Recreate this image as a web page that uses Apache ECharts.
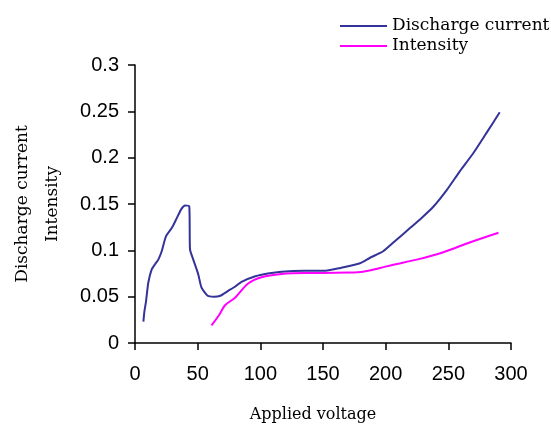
<!DOCTYPE html>
<html>
<head>
<meta charset="utf-8">
<script src="https://cdn.jsdelivr.net/npm/echarts@6/dist/echarts.min.js"></script>
<style>
html,body{margin:0;padding:0;background:#fff;}
#chart{width:551px;height:425px;}
</style>
</head>
<body>
<div id="chart"></div>
<script>
// Discharge current: applied voltage and values
var dischargeVoltage = [6.7, 7.5, 8.8, 10.6, 13.2, 16, 18.6, 21.3, 24.7, 29.3, 32.7, 37.2, 40, 43.3, 43.9, 46.5, 50.5, 53, 58, 63, 68, 74, 80, 85, 96, 106, 117, 135, 152, 164, 179.5, 187.5, 198, 208.7, 219.4, 228.7, 238, 248.7, 259, 270, 280.6, 291];
var dischargeValues  = [0.023, 0.034, 0.045, 0.065, 0.079, 0.085, 0.090, 0.099, 0.115, 0.124, 0.133, 0.145, 0.1485, 0.1475, 0.101, 0.090, 0.074, 0.060, 0.051, 0.050, 0.051, 0.056, 0.061, 0.066, 0.072, 0.075, 0.077, 0.078, 0.078, 0.081, 0.086, 0.092, 0.099, 0.1115, 0.124, 0.135, 0.147, 0.165, 0.185, 0.205, 0.227, 0.249];
// Intensity
var intensityVoltage = [61, 67, 72, 80, 90, 101, 117, 135, 150, 170, 182, 195.5, 206, 224.7, 246, 267, 290];
var intensityValues  = [0.019, 0.030, 0.041, 0.049, 0.064, 0.071, 0.0745, 0.0755, 0.0755, 0.076, 0.077, 0.081, 0.0845, 0.090, 0.098, 0.1085, 0.119];

var seriesNames = ['Discharge current', 'Intensity'];
var xAxisTitle = 'Applied voltage';
var yAxisTitle = 'Discharge current\nIntensity';

function pairs(xs, ys) { return xs.map(function (x, i) { return [x, ys[i]]; }); }

var chart = echarts.init(document.getElementById('chart'), null, {renderer: 'canvas'});
chart.setOption({
  animation: false,
  backgroundColor: '#ffffff',
  grid: {left: 135, right: 40, top: 65, bottom: 82, containLabel: false, outerBoundsMode: 'none'},
  legend: {
    orient: 'vertical',
    left: 335, top: 11,
    itemWidth: 47, itemHeight: 2, itemGap: 0,
    icon: 'rect',
    textStyle: {fontFamily: 'DejaVu Serif', fontSize: 17, color: '#000', lineHeight: 20},
    data: seriesNames
  },
  xAxis: {
    type: 'value', min: 0, max: 300, interval: 50,
    name: xAxisTitle, nameLocation: 'middle', nameGap: 64,
    nameTextStyle: {fontFamily: 'DejaVu Serif', fontSize: 16, color: '#000', padding: [0, 20, 0, 0]},
    axisLine: {show: true, lineStyle: {color: '#000', width: 1.5}},
    axisTick: {show: true, inside: false, length: 7, lineStyle: {color: '#000', width: 1.5}},
    axisLabel: {margin: 21, fontFamily: 'Liberation Sans', fontSize: 20, color: '#000'},
    splitLine: {show: false}
  },
  yAxis: {
    type: 'value', min: 0, max: 0.3, interval: 0.05,
    name: yAxisTitle, nameLocation: 'middle', nameGap: 67, nameRotate: 90,
    nameTextStyle: {fontFamily: 'DejaVu Serif', fontSize: 17, color: '#000', lineHeight: 30, align: 'center'},
    axisLine: {show: true, lineStyle: {color: '#000', width: 1.5}},
    axisTick: {show: true, inside: false, length: 7, lineStyle: {color: '#000', width: 1.5}},
    axisLabel: {margin: 16, fontFamily: 'Liberation Sans', fontSize: 20, color: '#000'},
    splitLine: {show: false}
  },
  series: [
    {
      name: seriesNames[0], type: 'line', showSymbol: false, symbol: 'none', smooth: 0.2,
      data: pairs(dischargeVoltage, dischargeValues),
      lineStyle: {color: '#333399', width: 2}, itemStyle: {color: '#333399'}
    },
    {
      name: seriesNames[1], type: 'line', showSymbol: false, symbol: 'none', smooth: 0.3,
      data: pairs(intensityVoltage, intensityValues),
      lineStyle: {color: '#ff00ff', width: 2}, itemStyle: {color: '#ff00ff'}
    }
  ]
});
</script>
</body>
</html>
